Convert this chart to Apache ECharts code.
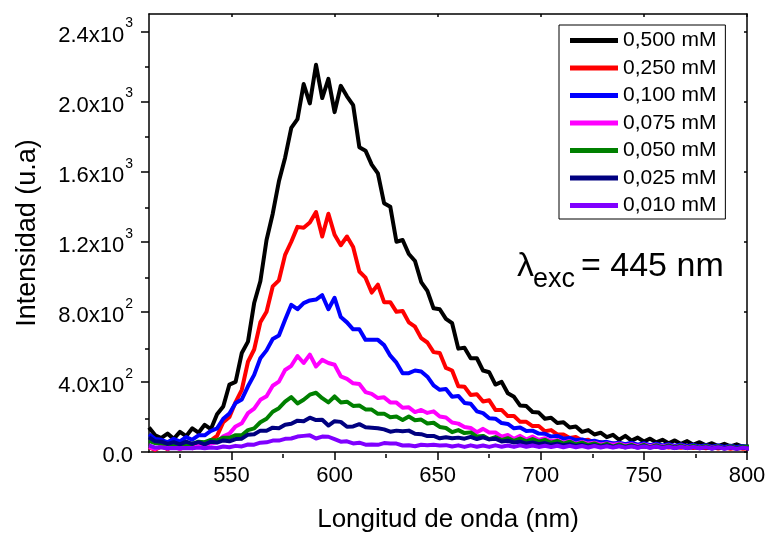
<!DOCTYPE html>
<html><head><meta charset="utf-8">
<script src="https://cdn.jsdelivr.net/npm/echarts@6/dist/echarts.min.js"></script>
<style>html,body{margin:0;padding:0;background:#fff}#c{width:771px;height:538px}</style>
</head><body><div id="c"></div>
<script>
const wavelengths = [
510,513,516,519,522,525,528,531,534,537,
540,543,546,549,552,555,558,561,564,567,
570,573,576,579,582,585,588,591,594,597,
600,603,606,609,612,615,618,621,624,627,
630,633,636,639,642,645,648,651,654,657,
660,663,666,669,672,675,678,681,684,687,
690,693,696,699,702,705,708,711,714,717,
720,723,726,729,732,735,738,741,744,747,
750,753,756,759,762,765,768,771,774,777,
780,783,786,789,792,795,798,801];

const conc0500 = [
140,95,80,105,75,115,90,135,110,155,
130,215,260,385,400,565,630,850,975,1210,
1360,1545,1680,1850,1900,2100,1990,2210,2020,2130,
1940,2090,2030,1980,1740,1720,1640,1590,1420,1400,
1200,1210,1130,1090,970,920,820,815,760,735,
590,595,535,535,465,455,385,400,335,315,
265,262,228,225,190,195,165,170,140,145,
115,125,100,110,85,98,70,92,65,82,
60,76,55,70,50,66,46,62,42,56,
38,50,34,47,32,44,30,32];

const conc0250 = [
28,12,33,16,38,18,32,22,44,40,
66,92,170,200,285,355,515,585,740,800,
945,980,1125,1200,1285,1280,1310,1370,1230,1360,
1240,1180,1230,1170,1030,995,910,955,855,855,
800,805,740,715,650,625,570,565,480,465,
375,372,325,330,288,295,240,240,205,205,
172,172,148,148,118,125,100,100,80,86,
66,70,54,56,45,49,37,45,34,40,
31,38,28,35,26,34,24,32,23,30,
21,29,20,27,18,26,18,22];

const conc0100 = [
100,75,70,55,75,60,85,70,95,95,
120,135,190,220,280,300,375,440,535,580,
645,665,755,840,815,850,865,870,895,815,
880,770,740,700,700,640,640,640,610,550,
510,450,450,465,460,430,380,355,360,315,
320,280,275,232,222,193,190,165,160,135,
140,120,122,105,104,88,92,76,80,68,
72,60,64,54,58,49,53,45,53,42,
50,39,47,37,45,35,43,33,41,32,
39,30,38,29,36,28,34,28];

const conc0075 = [
28,17,33,19,31,17,33,22,38,37,
49,56,90,105,146,164,222,248,298,318,
378,402,468,492,548,508,556,488,526,508,
498,432,418,392,388,342,332,308,312,283,
282,253,255,228,240,223,232,203,197,168,
162,143,137,113,132,111,112,88,97,75,
92,71,89,69,79,61,69,53,63,47,
57,48,53,43,49,41,47,38,45,35,
43,33,41,31,39,29,37,27,35,25,
33,24,31,22,30,21,28,25];

const conc0050 = [
64,51,49,46,44,44,46,46,59,56,
69,66,82,81,96,96,125,135,170,190,
230,250,287,313,277,298,327,338,307,283,
317,283,287,263,265,243,242,218,219,198,
202,183,203,181,185,163,167,143,137,113,
125,108,112,88,92,73,85,68,79,63,
77,61,74,59,69,53,64,48,59,43,
54,40,49,35,46,31,43,30,41,28,
40,27,39,26,38,25,37,24,36,23,
35,22,34,21,33,20,32,28];

const conc0025 = [
84,61,59,46,56,44,59,46,56,44,
59,54,66,61,74,76,99,101,122,121,
139,136,156,161,179,176,196,182,184,151,
176,172,144,146,159,141,139,136,129,116,
122,118,122,104,102,91,92,78,84,78,
82,76,86,74,84,72,76,60,64,54,
59,48,54,44,51,41,48,38,44,34,
41,32,39,30,37,29,35,27,34,26,
33,25,32,24,31,23,30,22,29,21,
28,20,27,20,27,18,26,19];

const conc0010 = [
38,25,25,22,23,21,23,22,25,21,
25,23,31,27,35,32,43,42,53,55,
65,65,75,77,88,92,95,77,88,87,
73,59,61,49,53,42,43,41,51,49,
48,37,38,33,41,39,41,37,39,31,
38,29,38,30,37,29,38,30,37,29,
38,30,37,29,36,28,36,27,35,27,
34,26,34,26,33,25,33,25,32,24,
32,24,31,23,30,22,30,22,29,21,
28,20,27,19,26,18,25,20];

const seriesNames = ['0,500 mM','0,250 mM','0,100 mM','0,075 mM','0,050 mM','0,025 mM','0,010 mM'];
const seriesColors = ['#000000','#ff0000','#0000ff','#ff00ff','#008000','#000080','#8000ff'];
const seriesValues = [conc0500, conc0250, conc0100, conc0075, conc0050, conc0025, conc0010];

const xTickValues = [550,600,650,700,750,800];
const xMinorTickValues = [525,575,625,675,725,775];
const yTickValues = [0,400,800,1200,1600,2000,2400];
const yTickLabels = ['{b|0.0}','{b|4.0x10}{s|2}','{b|8.0x10}{s|2}','{b|1.2x10}{s|3}','{b|1.6x10}{s|3}','{b|2.0x10}{s|3}','{b|2.4x10}{s|3}'];
const yMinorTickValues = [200,600,1000,1400,1800,2200];

const FONT = 'Liberation Sans, Arial, sans-serif';
const gridRect = {left:149, right:24, top:14, bottom:84, containLabel:false};
const axisLineStyle = {color:'#000', width:1.5};

const chart = echarts.init(document.getElementById('c'), null, {renderer:'canvas'});
const option = {
  animation:false,
  backgroundColor:'#fff',
  grid:[Object.assign({}, gridRect), Object.assign({}, gridRect)],
  xAxis:[
    {type:'value', gridIndex:0, position:'bottom', min:510, max:800,
     name:'Longitud de onda (nm)', nameLocation:'middle', nameGap:55,
     nameTextStyle:{fontSize:26, color:'#000', fontFamily:FONT},
     axisLine:{show:true, onZero:false, lineStyle:axisLineStyle},
     axisTick:{show:true, customValues:xTickValues, length:8, lineStyle:axisLineStyle},
     axisLabel:{show:true, customValues:xTickValues, fontSize:22, color:'#000', fontFamily:FONT, margin:13},
     splitLine:{show:false}},
    {type:'value', gridIndex:0, position:'top', min:510, max:800,
     axisLine:{show:true, onZero:false, lineStyle:axisLineStyle},
     axisTick:{show:true, inside:true, customValues:xTickValues, length:3, lineStyle:axisLineStyle},
     axisLabel:{show:false}, splitLine:{show:false}},
    {type:'value', gridIndex:1, position:'bottom', min:510, max:800,
     axisLine:{show:false, onZero:false},
     axisTick:{show:true, customValues:xMinorTickValues, length:4, lineStyle:axisLineStyle},
     axisLabel:{show:false}, splitLine:{show:false}}
  ],
  yAxis:[
    {type:'value', gridIndex:0, position:'left', min:0, max:2500,
     name:'Intensidad (u.a)', nameLocation:'middle', nameGap:108,
     nameTextStyle:{fontSize:27, color:'#000', fontFamily:FONT},
     axisLine:{show:true, onZero:false, lineStyle:axisLineStyle},
     axisTick:{show:true, customValues:yTickValues, length:8, lineStyle:axisLineStyle},
     axisLabel:{show:true, customValues:yTickValues, margin:16, color:'#000', fontFamily:FONT,
       formatter:function(v){ return yTickLabels[yTickValues.indexOf(v)]; },
       rich:{b:{fontSize:22, fontFamily:FONT, color:'#000', lineHeight:30, verticalAlign:'bottom'},
             s:{fontSize:14, fontFamily:FONT, color:'#000', lineHeight:30, verticalAlign:'top', padding:[0,0,0,1]}}},
     splitLine:{show:false}},
    {type:'value', gridIndex:0, position:'right', min:0, max:2500,
     axisLine:{show:true, onZero:false, lineStyle:axisLineStyle},
     axisTick:{show:true, inside:true, customValues:yTickValues, length:3, lineStyle:axisLineStyle},
     axisLabel:{show:false}, splitLine:{show:false}},
    {type:'value', gridIndex:1, position:'left', min:0, max:2500,
     axisLine:{show:false, onZero:false},
     axisTick:{show:true, customValues:yMinorTickValues, length:4, lineStyle:axisLineStyle},
     axisLabel:{show:false}, splitLine:{show:false}}
  ],
  legend:{
    orient:'vertical', left:559, top:25,
    data:seriesNames, icon:'rect', itemWidth:48, itemHeight:5, itemGap:6.5,
    padding:[5,9,3,11], borderColor:'#000', borderWidth:1, borderRadius:0,
    backgroundColor:'#fff',
    textStyle:{fontSize:21, color:'#000', fontFamily:FONT, lineHeight:20}
  },
  graphic:[
    {type:'text', left:517, top:250, style:{text:'\u03bb', fontSize:34, fontFamily:FONT, fill:'#000'}},
    {type:'text', left:533, top:266, style:{text:'exc', fontSize:27, fontFamily:FONT, fill:'#000'}},
    {type:'text', left:581, top:250, style:{text:'= 445 nm', fontSize:34, fontFamily:FONT, fill:'#000'}}
  ],
  series: seriesNames.map(function(name, i){
    return {
      name:name, type:'line', xAxisIndex:0, yAxisIndex:0,
      data: wavelengths.map(function(w, k){ return [w, seriesValues[i][k]]; }),
      showSymbol:false, symbol:'none', clip:true,
      lineStyle:{color:seriesColors[i], width:4, join:'round'},
      itemStyle:{color:seriesColors[i]},
      z: 2 + i
    };
  })
};
chart.setOption(option);
</script>
</body></html>
